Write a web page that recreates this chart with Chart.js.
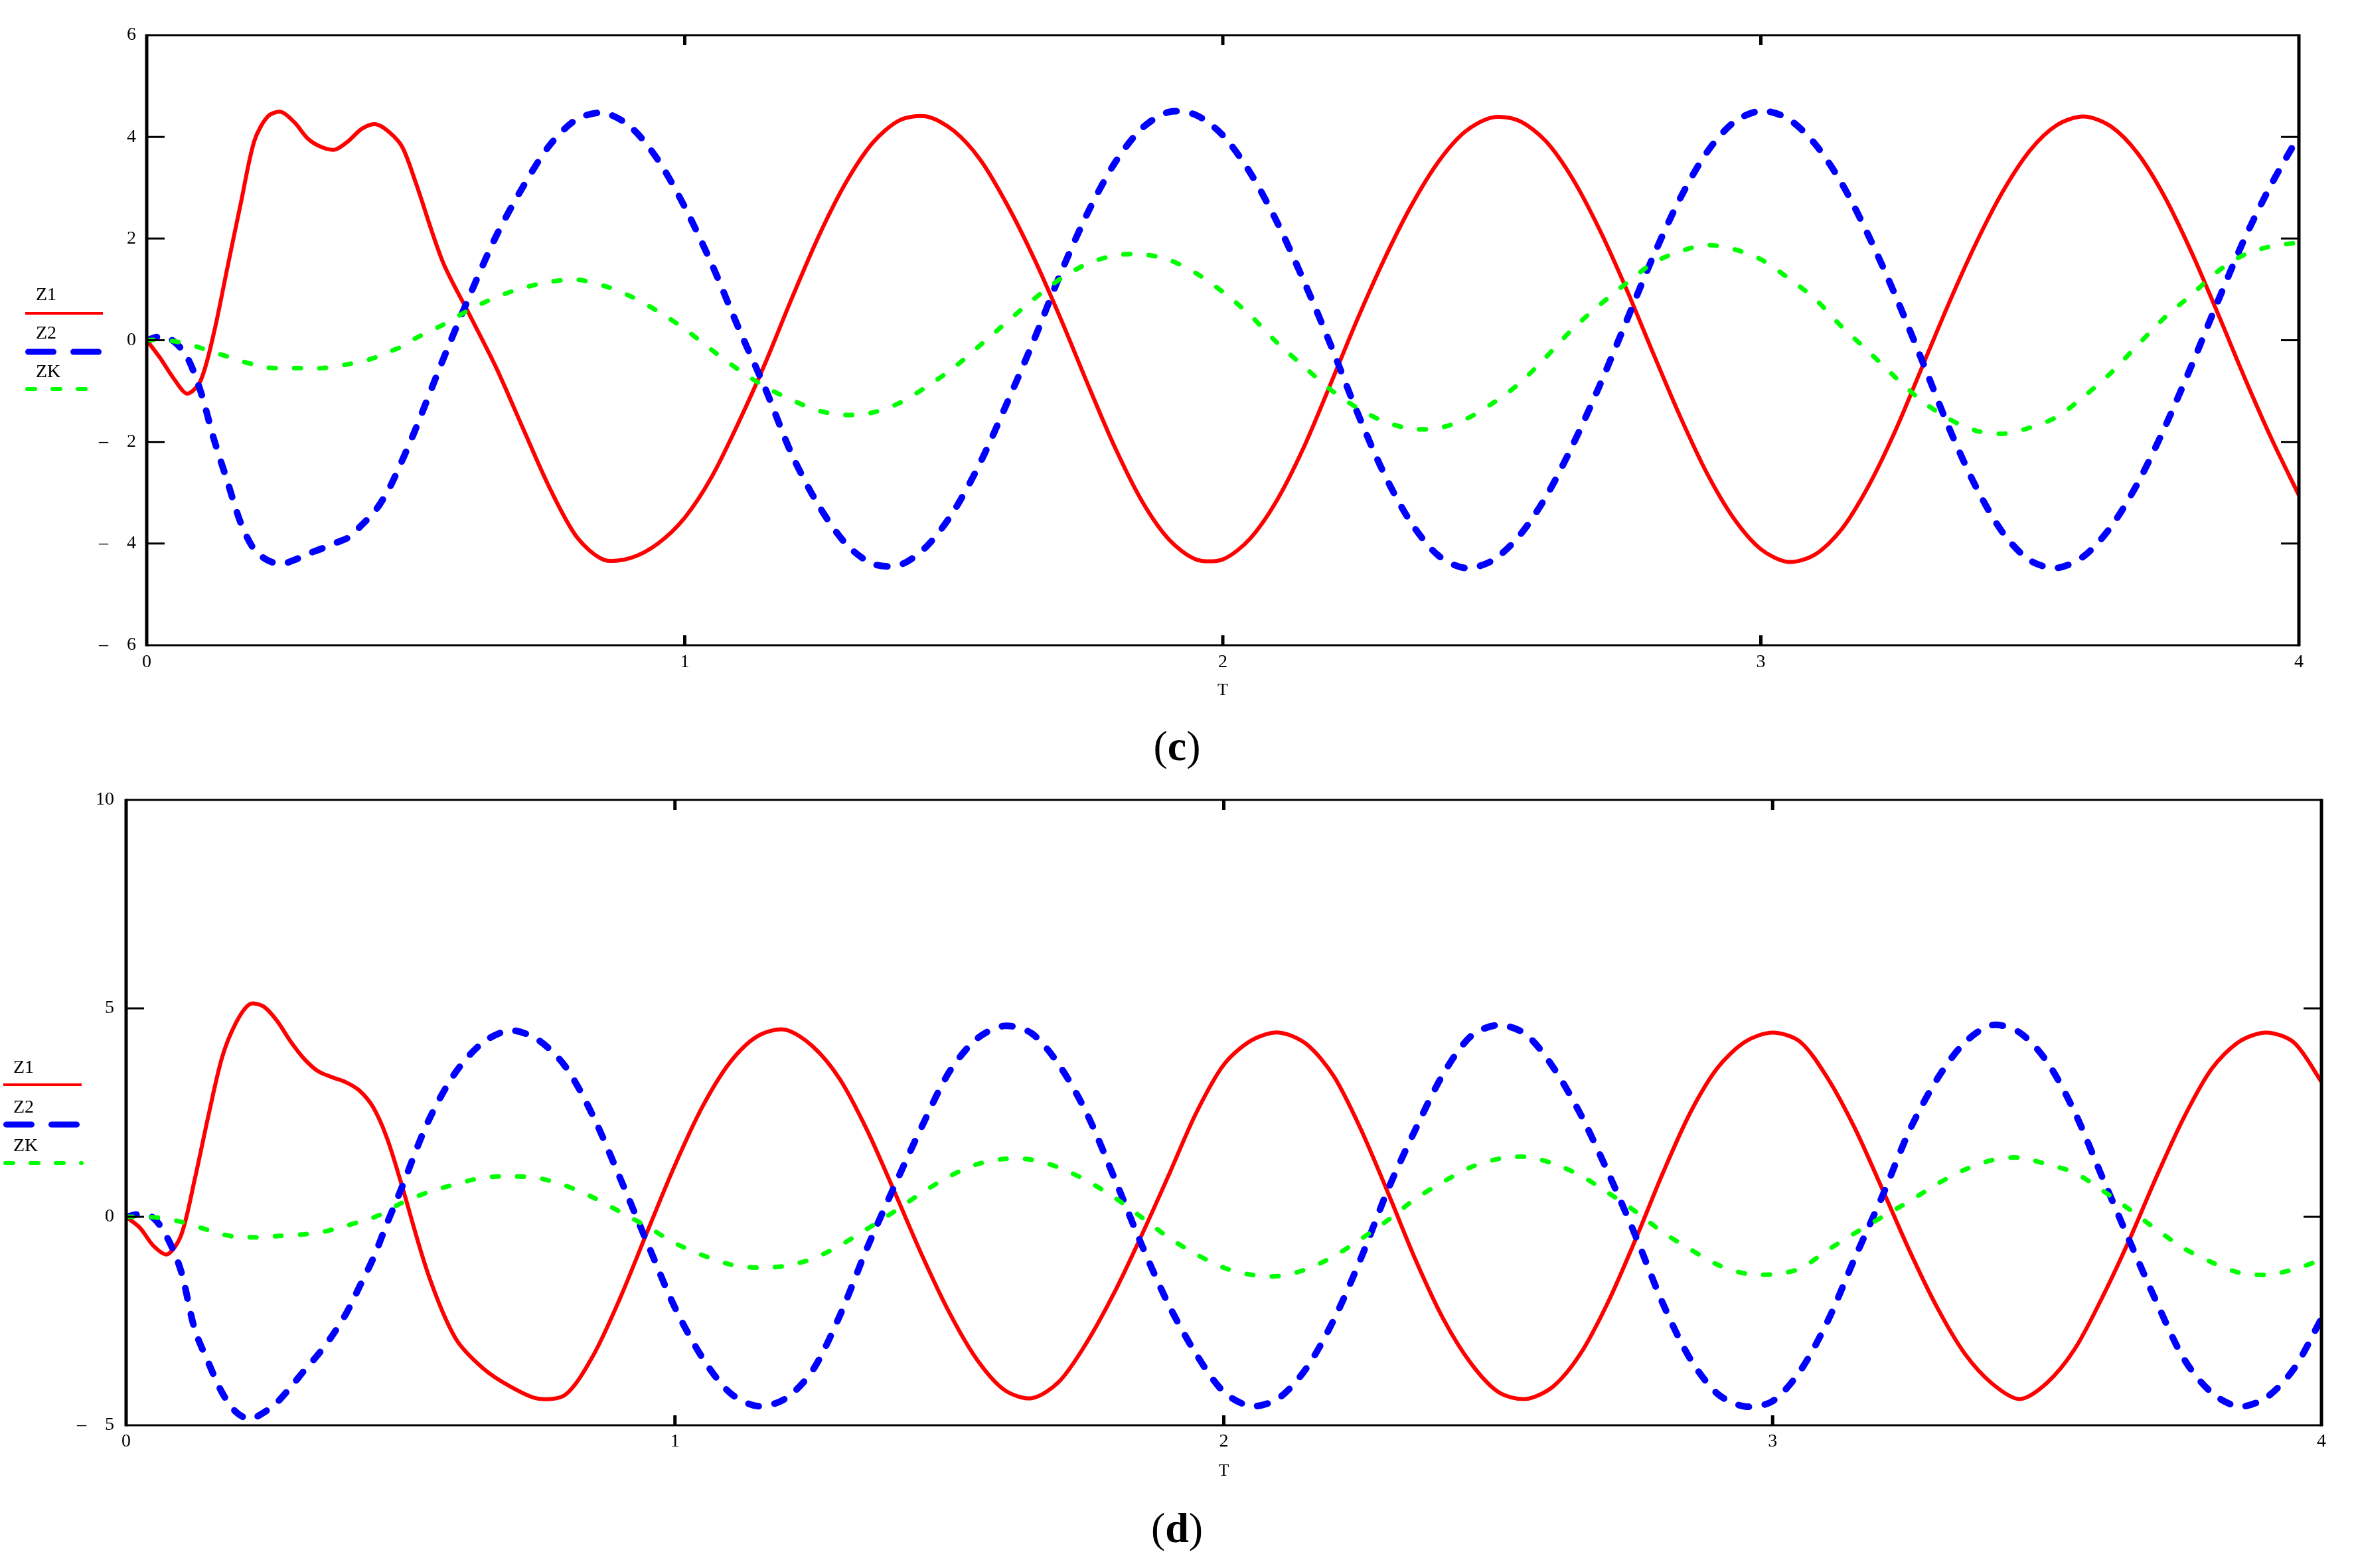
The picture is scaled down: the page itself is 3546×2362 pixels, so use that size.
<!DOCTYPE html>
<html lang="en">
<head>
<meta charset="UTF-8">
<title>Z1, Z2, ZK against T</title>
<style>
    html, body { margin: 0; padding: 0; background: #fff; }
    body { width: 3546px; height: 2362px; position: relative; overflow: hidden;
           font-family: "Liberation Serif", "Times New Roman", serif; }
    canvas { position: absolute; left: 0; }
    #chartC { top: 0; width: 3546px; height: 1090px; }
    #chartD { top: 1150px; width: 3546px; height: 1100px; }
    .caption { position: absolute; left: 0; width: 3546px; text-align: center;
               font-size: 64px; line-height: 64px; color: #000; }
    .caption b { font-weight: bold; }
</style>
</head>
<body>
<canvas id="chartC" width="3546" height="1090"></canvas>
<div class="caption" style="top:1092px">(<b>c</b>)</div>
<canvas id="chartD" width="3546" height="1100"></canvas>
<div class="caption" style="top:2270px">(<b>d</b>)</div>

<script src="https://cdn.jsdelivr.net/npm/chart.js"></script>
<script>
// time axis, finer near the start where the curves turn quickly
const T = [0, 0.025, 0.05, 0.075, 0.1, 0.125, 0.15, 0.175, 0.2, 0.225, 0.25, 0.275, 0.3, 0.325, 0.35, 0.375, 0.4, 0.425, 0.45, 0.475, 0.5,
    0.55, 0.6, 0.65, 0.7, 0.75, 0.8, 0.85, 0.9, 0.95, 1.0,
    1.05, 1.1, 1.15, 1.2, 1.25, 1.3, 1.35, 1.4, 1.45, 1.5,
    1.55, 1.6, 1.65, 1.7, 1.75, 1.8, 1.85, 1.9, 1.95, 2.0,
    2.05, 2.1, 2.15, 2.2, 2.25, 2.3, 2.35, 2.4, 2.45, 2.5,
    2.55, 2.6, 2.65, 2.7, 2.75, 2.8, 2.85, 2.9, 2.95, 3.0,
    3.05, 3.1, 3.15, 3.2, 3.25, 3.3, 3.35, 3.4, 3.45, 3.5,
    3.55, 3.6, 3.65, 3.7, 3.75, 3.8, 3.85, 3.9, 3.95, 4.0];

// panel (c)
const z1c = [0, -0.35, -0.75, -1.05, -0.8, 0.15, 1.43, 2.7, 3.92, 4.4, 4.49, 4.28, 3.96, 3.8, 3.75, 3.92, 4.16, 4.25, 4.1, 3.8, 3.1,
    1.55, 0.5, -0.55, -1.75, -2.93, -3.88, -4.32, -4.28, -4.0, -3.49,
    -2.69, -1.62, -0.44, 0.85, 2.07, 3.11, 3.89, 4.33, 4.40, 4.12,
    3.54, 2.65, 1.59, 0.39, -0.89, -2.12, -3.17, -3.92, -4.31, -4.31,
    -3.91, -3.16, -2.12, -0.87, 0.41, 1.59, 2.64, 3.50, 4.10, 4.38,
    4.32, 3.92, 3.18, 2.18, 1.01, -0.26, -1.50, -2.62, -3.51, -4.11,
    -4.36, -4.22, -3.72, -2.87, -1.78, -0.52, 0.74, 1.91, 2.93, 3.73,
    4.23, 4.40, 4.21, 3.68, 2.83, 1.74, 0.51, -0.76, -1.96, -3.05];
const z2c = [0, 0.07, -0.02, -0.33, -1.0, -1.95, -2.78, -3.6, -4.12, -4.33, -4.40, -4.32, -4.2, -4.1, -3.99, -3.88, -3.63, -3.35, -2.93, -2.36, -1.74,
    -0.4, 0.87, 2.06, 3.03, 3.85, 4.35, 4.47, 4.19, 3.55, 2.62,
    1.5, 0.24, -0.96, -2.27, -3.27, -4.01, -4.40, -4.42, -4.05, -3.36,
    -2.39, -1.21, 0.03, 1.35, 2.53, 3.50, 4.17, 4.49, 4.43, 4.03,
    3.31, 2.34, 1.18, -0.08, -1.42, -2.63, -3.59, -4.23, -4.48, -4.34,
    -3.86, -3.09, -2.07, -0.9, 0.37, 1.65, 2.79, 3.7, 4.29, 4.51,
    4.36, 3.87, 3.09, 2.06, 0.88, -0.41, -1.73, -2.89, -3.79, -4.33,
    -4.48, -4.25, -3.68, -2.82, -1.73, -0.51, 0.78, 2.02, 3.09, 4.02];
const zkc = [0, 0.01, -0.02, -0.07, -0.15, -0.24, -0.32, -0.41, -0.48, -0.54, -0.55, -0.55, -0.55, -0.55, -0.52, -0.47, -0.42, -0.34, -0.23, -0.12, 0.04,
    0.3, 0.6, 0.85, 1.03, 1.15, 1.19, 1.07, 0.86, 0.57, 0.22,
    -0.19, -0.58, -0.92, -1.18, -1.39, -1.47, -1.42, -1.23, -0.91, -0.54,
    -0.09, 0.37, 0.82, 1.22, 1.51, 1.67, 1.69, 1.58, 1.32, 0.95,
    0.5, -0.04, -0.51, -0.97, -1.33, -1.6, -1.74, -1.73, -1.56, -1.25,
    -0.86, -0.34, 0.22, 0.69, 1.12, 1.52, 1.75, 1.87, 1.79, 1.59,
    1.23, 0.82, 0.27, -0.22, -0.73, -1.2, -1.55, -1.78, -1.84, -1.72,
    -1.51, -1.11, -0.65, -0.1, 0.44, 0.89, 1.36, 1.69, 1.85, 1.92];

// panel (d)
const z1d = [0, -0.26, -0.7, -0.9, -0.45, 0.9, 2.43, 3.83, 4.65, 5.1, 5.05, 4.7, 4.2, 3.78, 3.49, 3.35, 3.23, 3.03, 2.63, 1.9, 0.86,
    -1.36, -2.91, -3.63, -4.07, -4.36, -4.27, -3.35, -1.95, -0.34, 1.24,
    2.64, 3.70, 4.33, 4.49, 4.10, 3.31, 2.08, 0.60, -0.92, -2.30,
    -3.42, -4.15, -4.35, -3.95, -3.02, -1.83, -0.45, 1.01, 2.50, 3.65,
    4.23, 4.42, 4.15, 3.38, 2.09, 0.55, -1.05, -2.45, -3.51, -4.20,
    -4.37, -4.07, -3.28, -2.05, -0.55, 1.05, 2.50, 3.58, 4.20, 4.42,
    4.20, 3.33, 2.12, 0.66, -0.83, -2.18, -3.28, -4.00, -4.37, -3.98,
    -3.18, -1.95, -0.55, 0.98, 2.40, 3.55, 4.20, 4.42, 4.18, 3.24];
const z2d = [0, 0.06, -0.03, -0.5, -1.3, -2.7, -3.5, -4.22, -4.68, -4.85, -4.7, -4.45, -4.08, -3.68, -3.3, -2.86, -2.34, -1.68, -1.0, -0.17, 0.63,
    2.28, 3.46, 4.18, 4.47, 4.25, 3.61, 2.44, 0.93, -0.64, -2.18,
    -3.38, -4.22, -4.54, -4.37, -3.70, -2.38, -0.75, 0.74, 2.17, 3.48,
    4.27, 4.58, 4.40, 3.64, 2.49, 0.95, -0.66, -2.12, -3.30, -4.20,
    -4.54, -4.35, -3.64, -2.48, -0.99, 0.68, 2.12, 3.43, 4.33, 4.60,
    4.38, 3.59, 2.46, 1.07, -0.45, -2.08, -3.41, -4.25, -4.55, -4.42,
    -3.70, -2.51, -0.98, 0.50, 2.09, 3.31, 4.18, 4.60, 4.42, 3.72,
    2.52, 0.97, -0.57, -2.06, -3.42, -4.22, -4.55, -4.33, -3.64, -2.44];
const zkd = [0, 0, -0.01, -0.05, -0.12, -0.22, -0.32, -0.42, -0.48, -0.49, -0.49, -0.46, -0.44, -0.42, -0.38, -0.31, -0.22, -0.12, -0.02, 0.13, 0.32,
    0.59, 0.78, 0.94, 0.97, 0.93, 0.75, 0.47, 0.12, -0.24, -0.63,
    -0.92, -1.14, -1.22, -1.18, -1.01, -0.69, -0.29, 0.13, 0.58, 0.97,
    1.26, 1.39, 1.37, 1.18, 0.87, 0.47, -0.01, -0.50, -0.90, -1.22,
    -1.39, -1.42, -1.26, -0.95, -0.53, -0.07, 0.44, 0.84, 1.19, 1.39,
    1.44, 1.28, 0.99, 0.58, 0.13, -0.37, -0.78, -1.15, -1.36, -1.38,
    -1.24, -0.80, -0.39, 0.00, 0.38, 0.79, 1.13, 1.36, 1.42, 1.26,
    1.06, 0.64, 0.18, -0.31, -0.76, -1.09, -1.34, -1.39, -1.26, -1.03];

const xTicks = [0, 1, 2, 3, 4];
const yTicksC = [-6, -4, -2, 0, 2, 4, 6];
const yTicksD = [-5, 0, 5, 10];
const seriesNames = ['Z1', 'Z2', 'ZK'];

const SERIF = '"Liberation Serif", "Times New Roman", serif';
Chart.defaults.font.family = SERIF;
Chart.defaults.color = '#000';

const styles = [
    { borderColor: '#ff0000', borderWidth: 6, borderDash: [], order: 3 },
    { borderColor: '#0000ff', borderWidth: 10, borderDash: [16, 24], borderCapStyle: 'round', order: 2 },
    { borderColor: '#00ff00', borderWidth: 7, borderDash: [10, 28], borderCapStyle: 'round', order: 1 }
];

function pts(ys) { return T.map((t, i) => ({ x: t, y: ys[i] })); }

// Mathcad style: minus sign set apart from the digits
function yLabel(v) { return v < 0 ? '\u2013\u2003' + (-v) : String(v); }

// frame with thick verticals, inward ticks on all four sides
const framePlugin = {
    id: 'mcFrame',
    afterDatasetsDraw(chart) {
        const { ctx, chartArea: a, scales: { x, y } } = chart;
        ctx.save();
        ctx.strokeStyle = '#000';
        ctx.setLineDash([]);
        ctx.lineCap = 'butt';
        ctx.lineWidth = 3;
        y.ticks.forEach(t => {
            if (t.value <= y.min || t.value >= y.max) return;
            const py = y.getPixelForValue(t.value);
            ctx.beginPath();
            ctx.moveTo(a.left, py); ctx.lineTo(a.left + 27, py);
            ctx.moveTo(a.right, py); ctx.lineTo(a.right - 27, py);
            ctx.stroke();
        });
        ctx.lineWidth = 5;
        x.ticks.forEach(t => {
            if (t.value <= x.min || t.value >= x.max) return;
            const px = x.getPixelForValue(t.value);
            ctx.beginPath();
            ctx.moveTo(px, a.bottom); ctx.lineTo(px, a.bottom - 15);
            ctx.moveTo(px, a.top); ctx.lineTo(px, a.top + 15);
            ctx.stroke();
        });
        ctx.lineWidth = 3;
        ctx.beginPath();
        ctx.moveTo(a.left, a.top); ctx.lineTo(a.right, a.top);
        ctx.moveTo(a.left, a.bottom); ctx.lineTo(a.right, a.bottom);
        ctx.stroke();
        ctx.lineWidth = 5;
        ctx.beginPath();
        ctx.moveTo(a.left, a.top - 1.5); ctx.lineTo(a.left, a.bottom + 1.5);
        ctx.moveTo(a.right, a.top - 1.5); ctx.lineTo(a.right, a.bottom + 1.5);
        ctx.stroke();
        ctx.restore();
    }
};

// legend: name above a sample of the line
const legendPlugin = {
    id: 'mcLegend',
    afterDraw(chart, args, o) {
        const ctx = chart.ctx;
        ctx.save();
        ctx.font = '28px ' + SERIF;
        ctx.fillStyle = '#000';
        ctx.textBaseline = 'middle';
        ctx.textAlign = 'left';
        const samples = [
            { w: 4, dash: [], cap: 'butt' },
            { w: 9, dash: [38, 30], cap: 'round' },
            { w: 6, dash: [12, 26], cap: 'round' }
        ];
        seriesNames.forEach((name, i) => {
            ctx.fillText(name, o.textX, o.textY[i]);
            const s = samples[i];
            ctx.strokeStyle = styles[i].borderColor;
            ctx.lineWidth = s.w;
            ctx.lineCap = s.cap;
            ctx.setLineDash(s.dash);
            const off = s.cap === 'round' ? s.w / 2 : 0;
            ctx.beginPath();
            ctx.moveTo(o.x0 + off, o.lineY[i]);
            ctx.lineTo(o.x1, o.lineY[i]);
            ctx.stroke();
        });
        ctx.restore();
    }
};

function makeChart(id, series, yTicks, box) {
    return new Chart(document.getElementById(id), {
        type: 'line',
        data: {
            datasets: series.map((ys, i) => Object.assign({
                label: seriesNames[i],
                data: pts(ys),
                pointRadius: 0,
                tension: 0.3,
                fill: false
            }, styles[i]))
        },
        options: {
            responsive: false,
            animation: false,
            events: [],
            layout: { padding: { left: 0, top: box.top, right: box.right, bottom: 0 } },
            plugins: {
                legend: { display: false },
                tooltip: { enabled: false },
                mcLegend: box.legend
            },
            scales: {
                x: {
                    type: 'linear',
                    min: 0, max: 4,
                    afterBuildTicks: s => { s.ticks = xTicks.map(v => ({ value: v })); },
                    afterFit: s => { s.height = box.xHeight; },
                    grid: { display: false, drawTicks: false },
                    border: { display: false },
                    ticks: { autoSkip: false, maxRotation: 0, padding: box.xPad, font: { size: 28 } },
                    title: { display: true, text: 'T', font: { size: 26 }, padding: { top: 0, bottom: box.titlePad } }
                },
                y: {
                    min: yTicks[0], max: yTicks[yTicks.length - 1],
                    afterBuildTicks: s => { s.ticks = yTicks.map(v => ({ value: v })); },
                    afterFit: s => { s.width = box.yWidth; },
                    grid: { display: false, drawTicks: false },
                    border: { display: false },
                    ticks: { padding: box.yPad, font: { size: 28 }, callback: yLabel }
                }
            }
        },
        plugins: [framePlugin, legendPlugin]
    });
}

makeChart('chartC', [z1c, z2c, zkc], yTicksC, {
    top: 53, right: 83, xHeight: 118, yWidth: 221, xPad: 9, yPad: 16, titlePad: 34,
    legend: { textX: 54, textY: [445, 503, 561], lineY: [472, 530, 586], x0: 38, x1: 155 }
});

makeChart('chartD', [z1d, z2d, zkd], yTicksD, {
    top: 55, right: 49, xHeight: 103, yWidth: 190, xPad: 8, yPad: 18, titlePad: 18,
    legend: { textX: 20, textY: [459, 519, 577], lineY: [484, 544, 602], x0: 5, x1: 123 }
});
</script>
</body>
</html>
